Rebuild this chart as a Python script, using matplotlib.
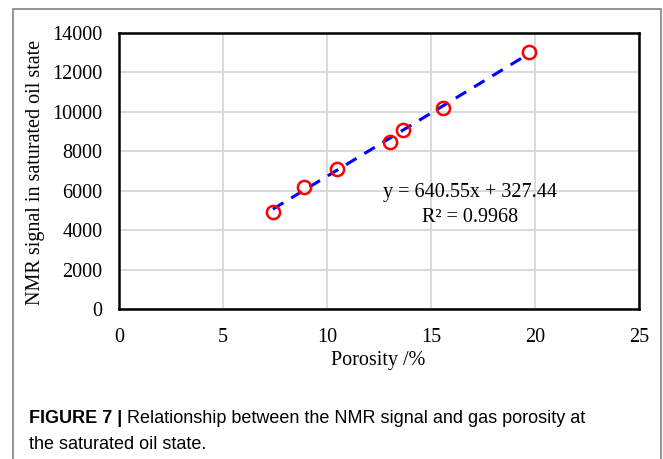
import numpy as np
import matplotlib
matplotlib.use("Agg")
import matplotlib.pyplot as plt
import matplotlib.patches as patches

# porosity (%) vs NMR signal
porosity = [7.4, 8.9, 10.5, 13.05, 13.65, 15.6, 19.7]
nmr_signal = [4900, 6180, 7120, 8450, 9070, 10180, 13020]

# trendline reported in the figure
slope = 640.55
intercept = 327.44
r2 = 0.9968

x_ticks = [0, 5, 10, 15, 20, 25]
y_ticks = [0, 2000, 4000, 6000, 8000, 10000, 12000, 14000]

W, H = 663, 459
fig = plt.figure(figsize=(W / 100, H / 100), dpi=100)

# grey frame round the figure (no bottom edge)
frame = patches.Rectangle((12.5 / W, -0.1), (661 - 12.5) / W, 1.1 - 9.5 / H,
                          transform=fig.transFigure, fill=False,
                          edgecolor='#8c8c8c', linewidth=1.3)
fig.add_artist(frame)

ax = fig.add_axes([119 / W, 1 - 309 / H, (639 - 119) / W, (309 - 33) / H])

serif = ['Liberation Serif', 'DejaVu Serif']

ax.grid(True, color='#d9d9d9', linewidth=1.4)
ax.set_axisbelow(True)

xs = np.array([min(porosity), max(porosity)])
ax.plot(xs, slope * xs + intercept, color='#0000ff', linestyle=(0, (4, 3)),
        linewidth=2.2, zorder=3)
ax.plot(porosity, nmr_signal, linestyle='none', marker='o', markersize=9.5,
        markerfacecolor='none', markeredgecolor='#ff0000',
        markeredgewidth=1.8, zorder=4)

ax.set_xlim(0, 25)
ax.set_ylim(0, 14000)
ax.set_xticks(x_ticks)
ax.set_yticks(y_ticks)
ax.tick_params(length=0, labelsize=14.5, pad=12)
ax.tick_params(axis='x', pad=14)
for lab in ax.get_xticklabels() + ax.get_yticklabels():
    lab.set_family(serif)

for sp in ax.spines.values():
    sp.set_color('black')
    sp.set_linewidth(1.8)

ax.text(0.675, 0.378, f"y = {slope}x + {intercept}\nR\u00b2 = {r2}",
        transform=ax.transAxes, ha='center', va='center', fontsize=14.5,
        family=serif, linespacing=1.45)

fig.text(378 / W, 1 - 361 / H, "Porosity /%", ha='center', va='center',
         fontsize=14.5, family=serif)
fig.text(36 / W, 1 - 172 / H, "NMR signal in saturated oil state",
         rotation=90, ha='center', va='center', fontsize=14.5, family=serif)

# caption: bold label followed by regular text on the same baseline
sans = ['Liberation Sans', 'DejaVu Sans']
t1 = fig.text(29 / W, 1 - 423 / H, "FIGURE 7 |", fontsize=13,
              fontweight='bold', family=sans, va='baseline')
fig.canvas.draw()
bb = t1.get_window_extent()
fig.text(bb.x1 / W, 1 - 423 / H,
         " Relationship between the NMR signal and gas porosity at",
         fontsize=13, family=sans, va='baseline')
fig.text(29 / W, 1 - 449 / H, "the saturated oil state.", fontsize=13,
         family=sans, va='baseline')

fig.savefig("out.png", dpi=100)
